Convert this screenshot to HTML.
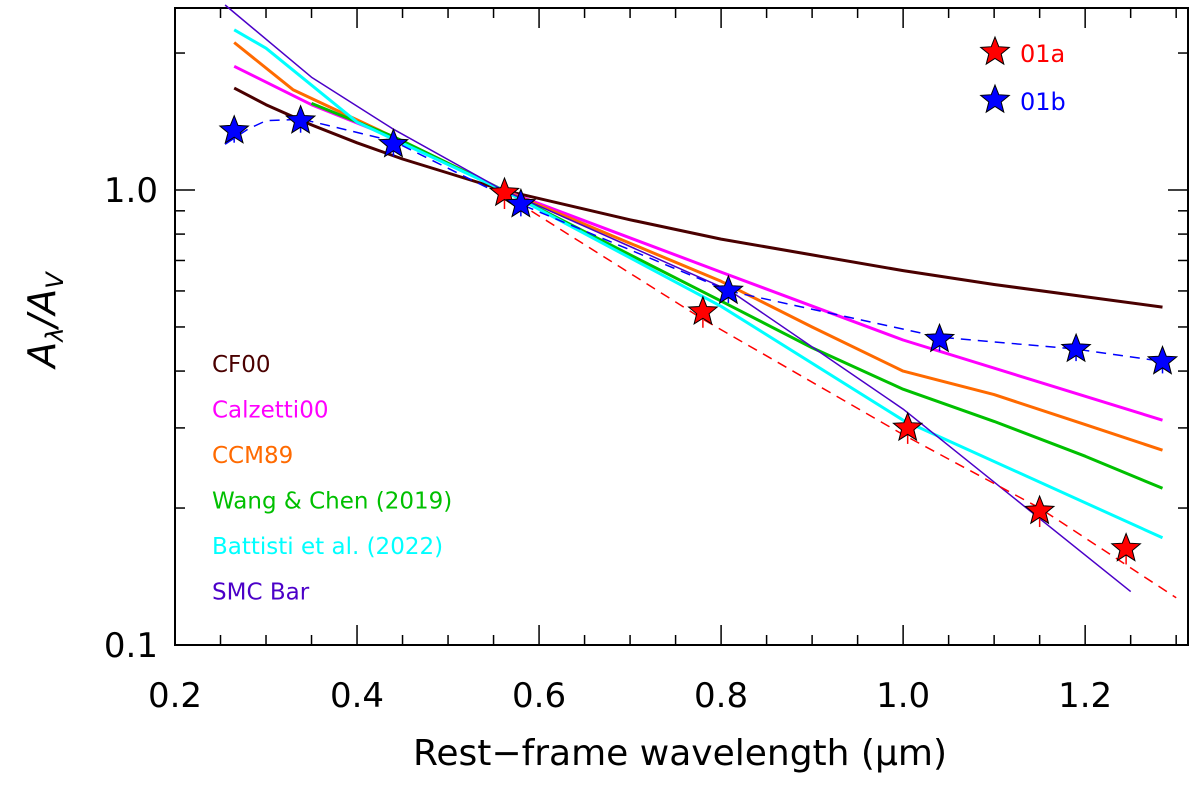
<!DOCTYPE html>
<html><head><meta charset="utf-8"><style>
body{margin:0;background:#fff}
svg text{font-family:"DejaVu Sans","Liberation Sans",sans-serif}
</style></head><body>
<svg id="chart" width="1200" height="784" xmlns="http://www.w3.org/2000/svg"></svg>
<script>
const xTicks=[0.2,0.4,0.6,0.8,1.0,1.2];
const yTicks=[0.1,1.0];
const redX=[0.562,0.78,1.005,1.15,1.245];
const redY=[0.985,0.54,0.30,0.197,0.163];
const blueX=[0.265,0.338,0.44,0.58,0.808,1.04,1.19,1.285];
const blueY=[1.35,1.42,1.26,0.93,0.60,0.47,0.447,0.42];
const blueDashX=[0.255,0.28,0.3,0.34,0.44,0.58,0.808,1.04,1.19,1.285];
const blueDashY=[1.26,1.36,1.42,1.43,1.28,0.93,0.60,0.475,0.447,0.42];
const redDashX=[0.56,0.78,1.0,1.15,1.3];
const redDashY=[0.985,0.52,0.29,0.2,0.127];
const cf00X=[0.265,0.3,0.35,0.4,0.45,0.5,0.56,0.7,0.8,0.9,1.0,1.1,1.285];
const cf00Y=[1.675,1.54,1.39,1.27,1.17,1.09,1.0,0.86,0.78,0.72,0.665,0.62,0.553];
const calX=[0.265,0.35,0.45,0.56,0.8,1.0,1.285];
const calY=[1.87,1.54,1.28,1.0,0.66,0.468,0.312];
const ccmX=[0.265,0.33,0.45,0.56,0.8,0.9,1.0,1.1,1.2,1.285];
const ccmY=[2.11,1.66,1.28,1.0,0.63,0.5,0.40,0.355,0.305,0.268];
const wangX=[0.35,0.44,0.56,0.8,0.9,1.0,1.1,1.2,1.285];
const wangY=[1.55,1.31,1.0,0.57,0.45,0.365,0.31,0.26,0.221];
const batX=[0.265,0.3,0.4,0.56,0.8,1.0,1.285];
const batY=[2.25,2.05,1.41,1.0,0.555,0.312,0.172];
const smcX=[0.255,0.35,0.44,0.56,0.81,1.0,1.25];
const smcY=[2.55,1.77,1.36,1.0,0.60,0.33,0.131];

const svg=document.getElementById('chart');
const NS='http://www.w3.org/2000/svg';
const L=175,R=1188,T=8,B=645;
const X=v=>L+(v-0.2)/(1.313-0.2)*(R-L);
const Y=v=>190-Math.log10(v)*455;
function mk(t,a,p){const e=document.createElementNS(NS,t);for(const k in a)e.setAttribute(k,a[k]);(p||svg).appendChild(e);return e;}
function line(xs,ys,color,w,dash,name){
 const d=xs.map((x,i)=>(i?'L':'M')+X(x).toFixed(1)+','+Y(ys[i]).toFixed(1)).join('');
 const p=mk('path',{d:d,fill:'none',stroke:color,'stroke-width':w,'stroke-linejoin':'round'});
 if(dash)p.setAttribute('stroke-dasharray',dash);
 
 
}
function star(cx,cy,color,name){
 let pts=[];for(let i=0;i<10;i++){const r=i%2?6.5:15;const a=-Math.PI/2+i*Math.PI/5;pts.push((cx+r*Math.cos(a)).toFixed(1)+','+(cy+r*Math.sin(a)).toFixed(1));}
 const s=mk('polygon',{points:pts.join(' '),fill:color,stroke:'#000','stroke-width':1});
 
 
}
const fr=mk('rect',{x:L,y:T,width:R-L,height:B-T,fill:'none',stroke:'#000','stroke-width':2});


for(let v=0.2;v<=1.3001;v+=0.05){const x=X(v);const maj=Math.abs(v*5-Math.round(v*5))<1e-6;const len=maj?20:10;
 mk('line',{x1:x,y1:B,x2:x,y2:B-len,stroke:'#000','stroke-width':1.5});mk('line',{x1:x,y1:T,x2:x,y2:T+len,stroke:'#000','stroke-width':1.5});}
xTicks.forEach(v=>{const t=mk('text',{x:X(v),y:707,'font-size':34,'text-anchor':'middle'});t.textContent=v.toFixed(1);
 
 });
[0.1,0.2,0.3,0.4,0.5,0.6,0.7,0.8,0.9,1,2].forEach(v=>{const y=Y(v);if(y<T)return;const maj=(v==0.1||v==1);const len=maj?20:10;
 mk('line',{x1:L,y1:y,x2:L+len,y2:y,stroke:'#000','stroke-width':1.5});mk('line',{x1:R,y1:y,x2:R-len,y2:y,stroke:'#000','stroke-width':1.5});});
yTicks.forEach(v=>{const t=mk('text',{x:158,y:Y(v)+12,'font-size':34,'text-anchor':'end'});t.textContent=v.toFixed(1);
 
 });
const xt=mk('text',{x:680,y:765,'font-size':36,'text-anchor':'middle'});xt.textContent='Rest−frame wavelength (μm)';


const yt=mk('text',{x:0,y:0,'font-size':38,'text-anchor':'middle','font-style':'italic',transform:'translate(55,320) rotate(-90)','font-family':'Liberation Serif,serif'});
yt.innerHTML='A<tspan font-size="24" dy="8">λ</tspan><tspan dy="-8">/A</tspan><tspan font-size="24" dy="8">V</tspan>';


line(cf00X,cf00Y,'#4a0000',3,null,'cf00-curve');
line(calX,calY,'#ff00ff',3,null,'calzetti00-curve');
line(ccmX,ccmY,'#ff6a00',3,null,'ccm89-curve');
line(wangX,wangY,'#00c000',3,null,'wang-chen-curve');
line(batX,batY,'#00ffff',3,null,'battisti-curve');
line(smcX,smcY,'#4b00c8',1.5,null,'smc-bar-curve');
line(blueDashX,blueDashY,'#0000ff',1.5,'10,7','01b-fit-line');
line(redDashX,redDashY,'#ff0000',1.5,'10,7','01a-fit-line');
redX.forEach((x,i)=>{mk('line',{x1:X(x),y1:Y(redY[i])-14,x2:X(x),y2:Y(redY[i])+16,stroke:'#ff0000','stroke-width':1.5});star(X(x),Y(redY[i]),'#ff0000','01a-star');});
blueX.forEach((x,i)=>{mk('line',{x1:X(x),y1:Y(blueY[i])-10,x2:X(x),y2:Y(blueY[i])+12,stroke:'#0000ff','stroke-width':1.5});star(X(x),Y(blueY[i]),'#0000ff','01b-star');});
const leg=[['CF00','#4a0000'],['Calzetti00','#ff00ff'],['CCM89','#ff6a00'],['Wang & Chen (2019)','#00c000'],['Battisti et al. (2022)','#00ffff'],['SMC Bar','#4b00c8']];
leg.forEach((l,i)=>{const t=mk('text',{x:212,y:372+i*45.5,'font-size':23,fill:l[1]});t.textContent=l[0];
 
 });
star(995,52,'#ff0000','legend-01a-star');star(995,100,'#0000ff','legend-01b-star');
const a=mk('text',{x:1020,y:62,'font-size':24,fill:'#ff0000'});a.textContent='01a';


const b=mk('text',{x:1020,y:110,'font-size':24,fill:'#0000ff'});b.textContent='01b';


</script>
</body></html>
